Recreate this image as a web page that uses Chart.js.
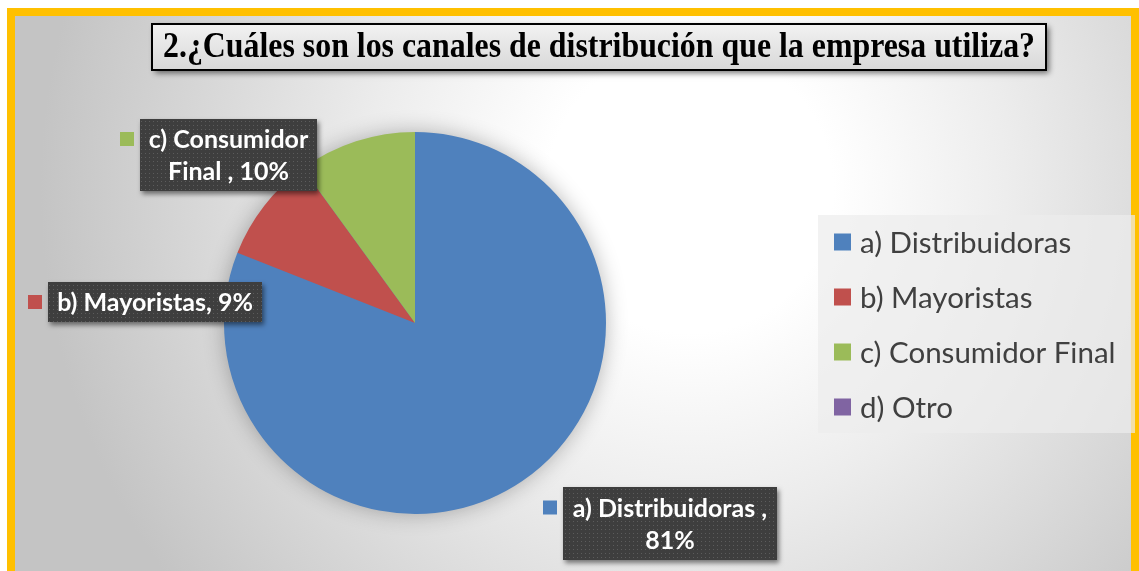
<!DOCTYPE html>
<html><head><meta charset="utf-8">
<script src="https://cdn.jsdelivr.net/npm/chart.js@4/dist/chart.umd.min.js"></script>
<style>html,body{margin:0;padding:0;background:#fff;overflow:hidden}</style>
</head><body>
<canvas id="c" width="1139" height="571"></canvas>
<script>
// ---- data ----
const titleText = "2.¿Cuáles son los canales de distribución que la empresa utiliza?";
const categories = ["a) Distribuidoras", "b) Mayoristas", "c) Consumidor Final", "d) Otro"];
const values = [81, 9, 10, 0];
const labelSeparators = [" , ", ", ", " , ", ", "];
const colors = ["#4f81bd", "#c0504d", "#9bbb59", "#8064a2"];

// ---- layout (positions / styles) ----
const layout = {
  frame: {x: 7, y: 8, w: 1132, h: 563, border: 8},
  title: {x: 152, y: 24, w: 894, h: 46, size: 35, textX: 163, textW: 872},
  legend: {x: 818, y: 215, w: 317, h: 218, row0: 242, gap: 55, keyX: 834, key: 17, textX: 860, size: 29.5},
  labels: [
    {x: 563, y: 487, w: 214, h: 73},
    {x: 48, y: 282, w: 214, h: 40},
    {x: 140, y: 119, w: 177, h: 72},
    null
  ],
  labelFont: 25,
  sansFont: "Lato, 'Open Sans', sans-serif"
};

function makePattern(ctx) {
  const p = document.createElement('canvas');
  p.width = 4; p.height = 4;
  const g = p.getContext('2d');
  g.fillStyle = '#3e3e3e'; g.fillRect(0, 0, 4, 4);
  g.fillStyle = '#5c5c5c'; g.fillRect(1, 1, 1, 1);
  return ctx.createPattern(p, 'repeat');
}

function wrapText(ctx, text, maxW) {
  const words = text.split(' ');
  const lines = [];
  let cur = '';
  for (const w of words) {
    const t = cur ? cur + ' ' + w : w;
    if (cur && ctx.measureText(t).width > maxW) { lines.push(cur); cur = w; }
    else cur = t;
  }
  if (cur) lines.push(cur);
  return lines;
}

const decor = {
  id: 'decor',
  beforeDraw(chart) {
    const ctx = chart.ctx;
    const f = layout.frame;
    ctx.save();
    ctx.fillStyle = '#ffffff';
    ctx.fillRect(0, 0, chart.width, chart.height);
    ctx.fillStyle = '#ffc000';
    ctx.fillRect(f.x, f.y, f.w, f.h);
    const ix = f.x + f.border, iy = f.y + f.border;
    const iw = f.w - 2 * f.border, ih = f.h;
    const g = ctx.createRadialGradient(690, 190, 0, 690, 190, 650);
    g.addColorStop(0, '#ffffff');
    g.addColorStop(0.22, '#ffffff');
    g.addColorStop(0.5, '#ececec');
    g.addColorStop(1, '#c4c4c4');
    ctx.fillStyle = g;
    ctx.fillRect(ix, iy, iw, ih);

    // title box
    const t = layout.title;
    ctx.save();
    ctx.shadowColor = 'rgba(0,0,0,0.55)';
    ctx.shadowBlur = 6; ctx.shadowOffsetX = 3; ctx.shadowOffsetY = 3;
    const tg = ctx.createLinearGradient(0, t.y, 0, t.y + t.h);
    tg.addColorStop(0, '#f2f2f2');
    tg.addColorStop(1, '#d8d8d8');
    ctx.fillStyle = tg;
    ctx.fillRect(t.x, t.y, t.w, t.h);
    ctx.restore();
    ctx.strokeStyle = '#000';
    ctx.lineWidth = 2;
    ctx.strokeRect(t.x, t.y, t.w, t.h);
    ctx.font = `bold ${t.size}px 'Liberation Serif', 'Times New Roman', serif`;
    const words = titleText.split(' ');
    const normalSpace = ctx.measureText(' ').width;
    const wordsW = words.reduce((s, w) => s + ctx.measureText(w).width, 0);
    const natural = wordsW + normalSpace * (words.length - 1);
    let sx = 1, gap = normalSpace;
    if (natural > t.textW) sx = t.textW / natural;
    else gap = (t.textW - wordsW) / (words.length - 1);
    ctx.fillStyle = '#000';
    ctx.textBaseline = 'middle';
    ctx.textAlign = 'left';
    ctx.translate(t.textX, t.y + t.h / 2 + 1);
    ctx.scale(sx, 1);
    let x = 0;
    for (const w of words) {
      ctx.fillText(w, x, 0);
      x += ctx.measureText(w).width + gap;
    }
    ctx.restore();
  },
  beforeDatasetsDraw(chart) {
    const arc = chart.getDatasetMeta(0).data[0];
    if (!arc) return;
    const ctx = chart.ctx;
    ctx.save();
    ctx.shadowColor = 'rgba(0,0,0,0.3)';
    ctx.shadowBlur = 22;
    ctx.fillStyle = colors[0];
    ctx.beginPath();
    ctx.arc(arc.x, arc.y, arc.outerRadius - 1, 0, Math.PI * 2);
    ctx.fill();
    ctx.restore();
  },
  afterDraw(chart) {
    const ctx = chart.ctx;
    const pat = makePattern(ctx);
    // data labels
    layout.labels.forEach((b, i) => {
      if (!b) return;
      ctx.save();
      ctx.shadowColor = 'rgba(0,0,0,0.5)';
      ctx.shadowBlur = 5; ctx.shadowOffsetX = 2; ctx.shadowOffsetY = 3;
      ctx.fillStyle = pat;
      ctx.fillRect(b.x, b.y, b.w, b.h);
      ctx.restore();
      ctx.save();
      ctx.font = `bold ${layout.labelFont}px ${layout.sansFont}`;
      const text = categories[i] + labelSeparators[i] + values[i] + '%';
      const lines = wrapText(ctx, text, b.w - 6);
      const lh = 32;
      const cy = b.y + b.h / 2;
      const y0 = cy - (lines.length - 1) * lh / 2;
      ctx.fillStyle = '#ffffff';
      ctx.textAlign = 'center';
      ctx.textBaseline = 'middle';
      lines.forEach((l, k) => ctx.fillText(l, b.x + b.w / 2, y0 + k * lh + 1));
      ctx.fillStyle = colors[i];
      ctx.fillRect(b.x - 20, y0 - 7, 14, 14);
      ctx.restore();
    });
    // legend
    const L = layout.legend;
    ctx.save();
    ctx.fillStyle = 'rgba(236,236,236,0.7)';
    ctx.fillRect(L.x, L.y, L.w, L.h);
    ctx.font = `${L.size}px ${layout.sansFont}`;
    ctx.textBaseline = 'middle';
    ctx.textAlign = 'left';
    categories.forEach((c, i) => {
      const y = L.row0 + i * L.gap;
      ctx.fillStyle = colors[i];
      ctx.fillRect(L.keyX, y - L.key / 2, L.key, L.key);
      ctx.fillStyle = '#404040';
      ctx.fillText(c, L.textX, y + 1);
    });
    ctx.restore();
  }
};

new Chart(document.getElementById('c'), {
  type: 'pie',
  data: {
    labels: categories,
    datasets: [{data: values, backgroundColor: colors, borderWidth: 0}]
  },
  options: {
    responsive: false,
    animation: false,
    events: [],
    layout: {padding: {left: 224, right: 533, top: 132, bottom: 57}},
    plugins: {legend: {display: false}, title: {display: false}, tooltip: {enabled: false}}
  },
  plugins: [decor]
});
</script>
</body></html>
